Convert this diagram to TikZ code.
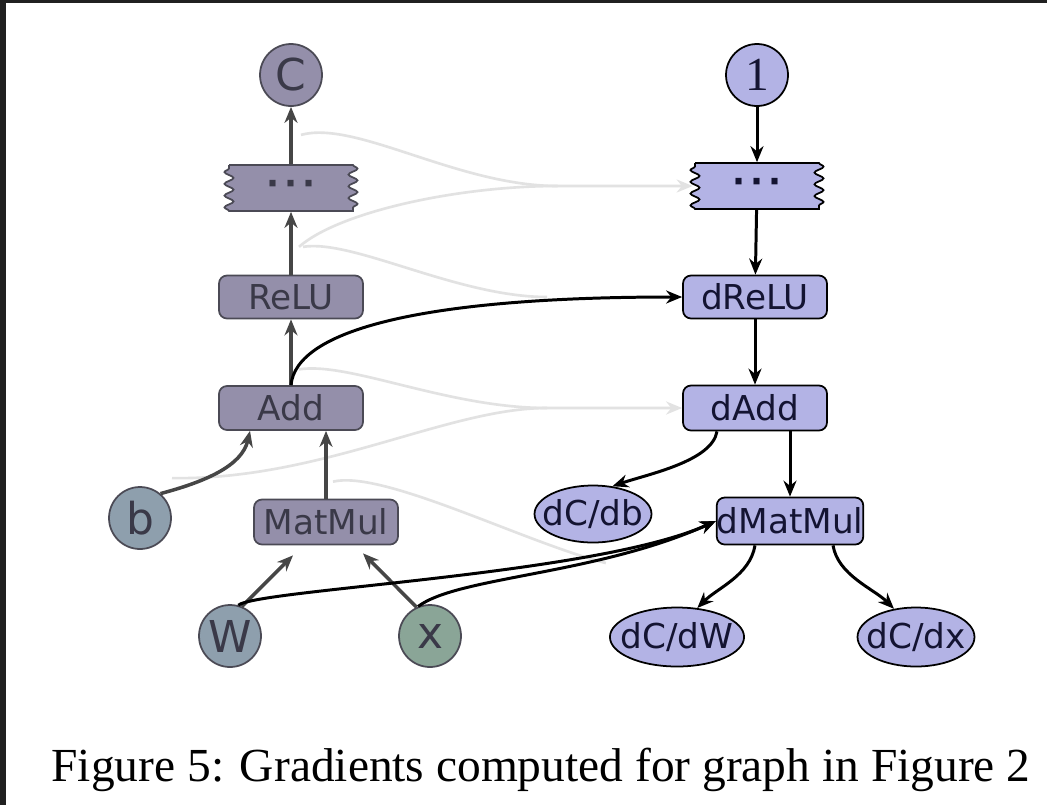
\documentclass[tikz,border=0pt]{standalone}
\usepackage{fontspec}
\usepackage{tikz}
\usetikzlibrary{arrows.meta,positioning,calc,shapes.geometric,decorations.pathmorphing}
\newfontfamily\graphfont{DejaVu Sans}
\newfontfamily\capfont{Liberation Serif}
\definecolor{FwdFill}{HTML}{948FAA}
\definecolor{FwdLine}{HTML}{4B4A55}
\definecolor{FwdText}{HTML}{3A3948}
\definecolor{InFill}{HTML}{8E9FAD}
\definecolor{XFill}{HTML}{8AA597}
\definecolor{BwdFill}{HTML}{B3B3E5}
\definecolor{BwdText}{HTML}{141432}
\definecolor{FwdEdge}{HTML}{464646}
\definecolor{Ghost}{HTML}{E2E2E2}
\definecolor{Frame}{HTML}{202020}
\newcommand{\gsize}{\fontsize{19.5}{22}\selectfont}
\newcommand{\threedots}{\textbf{·\hspace{3pt}·\hspace{3pt}·}}

\tikzset{
  fwdop/.style={draw=FwdLine, fill=FwdFill, text=FwdText, line width=1pt, rounded corners=0.16cm,
    minimum width=2.88cm, minimum height=0.86cm, inner sep=0pt, font=\graphfont\gsize},
  bwdop/.style={fwdop, draw=black, fill=BwdFill, text=BwdText},
  leaf/.style={circle, draw=FwdLine, fill=InFill, text=FwdText, line width=1pt, minimum size=1.24cm,
    inner sep=0pt, font=\graphfont\fontsize{25}{28}\selectfont},
  grad/.style={ellipse, draw=black, fill=BwdFill, text=BwdText, line width=1pt, minimum width=2.34cm,
    minimum height=1.14cm, inner xsep=-0.18cm, inner ysep=0.04cm, font=\graphfont\gsize},
  dotsbox/.style={minimum width=2.56cm, minimum height=0.94cm, inner sep=0pt, font=\graphfont\gsize},
  wavy/.style={line width=1pt, decoration={snake, segment length=0.235cm, amplitude=0.09cm}},
  fwd/.style={FwdEdge, line width=2pt, -{Stealth[length=0.32cm,width=0.26cm]}},
  bwd/.style={black, line width=1.7pt, -{Stealth[length=0.32cm,width=0.26cm]}},
  ghost/.style={Ghost, line width=1.5pt},
  ghostarrow/.style={ghost, -{Stealth[length=0.32cm,width=0.26cm]}},
}

\begin{document}
\begin{tikzpicture}[x=0.02cm, y=-0.02cm, >=Latex]
\useasboundingbox (0,0) rectangle (1047,805);
\fill[Frame] (0,0) rectangle (1047,805);
\fill[white] (6,3) rectangle (1047,805);

% forward graph
\node[leaf, fill=FwdFill] (C) at (291,75) {C};
\coordinate (fd) at (291,188);
\filldraw[wavy, draw=FwdLine, fill=FwdFill] ($(fd)+(-62,-23)$) -- ($(fd)+(62,-23)$)
  decorate {-- ($(fd)+(62,23)$)} -- ($(fd)+(-62,23)$) decorate {-- ($(fd)+(-62,-23)$)} -- cycle;
\node[dotsbox, text=FwdText] (fdots) at (fd) {\threedots};
\node[fwdop] (relu) at (291,297) {ReLU};
\node[fwdop, minimum height=0.88cm] (add) at (291,408) {Add};
\node[leaf] (b) at (140,518) {b};
\node[fwdop, minimum height=0.9cm] (matmul) at (326,522) {MatMul};
\node[leaf] (W) at (230,636) {W};
\node[leaf, fill=XFill] (x) at (430,636) {x};

% gradient graph
\node[leaf, fill=BwdFill, draw=black, text=BwdText, font=\capfont\fontsize{27}{30}\selectfont] (one) at (757,75) {1};
\coordinate (bd) at (757,186);
\filldraw[wavy, draw=black, fill=BwdFill] ($(bd)+(-62,-23)$) -- ($(bd)+(62,-23)$)
  decorate {-- ($(bd)+(62,23)$)} -- ($(bd)+(-62,23)$) decorate {-- ($(bd)+(-62,-23)$)} -- cycle;
\node[dotsbox, text=BwdText] (bdots) at (bd) {\threedots};
\node[bwdop] (drelu) at (755,297) {dReLU};
\node[bwdop, minimum height=0.9cm] (dadd) at (755,408) {dAdd};
\node[grad] (dcdb) at (593,514) {dC/db};
\node[bwdop, minimum height=0.94cm] (dmatmul) at (790,521) {dMatMul};
\node[grad, minimum height=1.18cm] (dcdw) at (677,637) {dC/dW};
\node[grad, minimum height=1.18cm] (dcdx) at (916,637) {dC/dx};

% faint links from forward values
\draw[ghostarrow] ($(C.south)+(10,28)$) .. controls +(55,-15) and +(-100,0) .. ($(bdots.west)+(-135,0)$) -- (bdots.west);
\draw[ghost] ($(fdots.south)+(8,35)$) .. controls +(40,-35) and +(-100,0) .. ($(bdots.west)+(-135,0)$);
\draw[ghost] ($(fdots.south)+(12,35)$) .. controls +(50,-8) and +(-90,0) .. ($(drelu.west)+(-135,0)$);
\draw[ghostarrow] ($(relu.south)+(8,50)$) .. controls +(50,-8) and +(-100,0) .. ($(dadd.west)+(-135,0)$) -- (dadd.west);
\draw[ghost] ($(b.north)+(32,-8)$) .. controls +(150,2) and +(-100,0) .. ($(dadd.west)+(-135,0)$);
\draw[ghost] ($(matmul.north)+(7,-17)$) .. controls +(50,-12) and +(-80,-20) .. ($(dmatmul.west)+(-110,42)$);

% forward edges
\draw[fwd] (fdots) -- (C);
\draw[fwd] (relu) -- (fdots);
\draw[fwd] (add) -- (relu);
\draw[fwd] (b.50) .. controls +(45,-12) and +(-8,35) .. ($(add.south)+(-41,0)$);
\draw[fwd] (matmul) -- (matmul |- add.south);
\draw[fwd] (W.68) -- ($(matmul.south)+(-33,10)$);
\draw[fwd] (x.115) -- ($(matmul.south)+(37,8)$);

% gradient edges
\draw[bwd] (one) -- (bdots);
\draw[bwd] (bdots) -- (drelu);
\draw[bwd] (drelu) -- (dadd);
\draw[bwd] ($(dadd.south)+(-38,0)$) .. controls +(-5,30) and +(35,-12) .. (dcdb.55);
\draw[bwd] (dmatmul |- dadd.south) -- (dmatmul);
\draw[bwd] ($(dmatmul.south)+(-35,0)$) .. controls +(-5,30) and +(20,-20) .. (dcdw.55);
\draw[bwd] ($(dmatmul.south)+(43,0)$) .. controls +(5,30) and +(-20,-20) .. (dcdx.128);
\draw[bwd] (add.north) .. controls +(5,-55) and +(-260,0) .. (drelu.west);
\draw[bwd] (W.75) .. controls +(20,-16) and +(-120,54) .. (dmatmul.west);
\draw[bwd] (x.112) .. controls +(40,-30) and +(-120,54) .. (dmatmul.west);

\node[font=\capfont\fontsize{27}{30}\selectfont, anchor=base] (cap) at (541,781) {Figure 5: Gradients computed for graph in Figure 2};
\end{tikzpicture}
\end{document}
